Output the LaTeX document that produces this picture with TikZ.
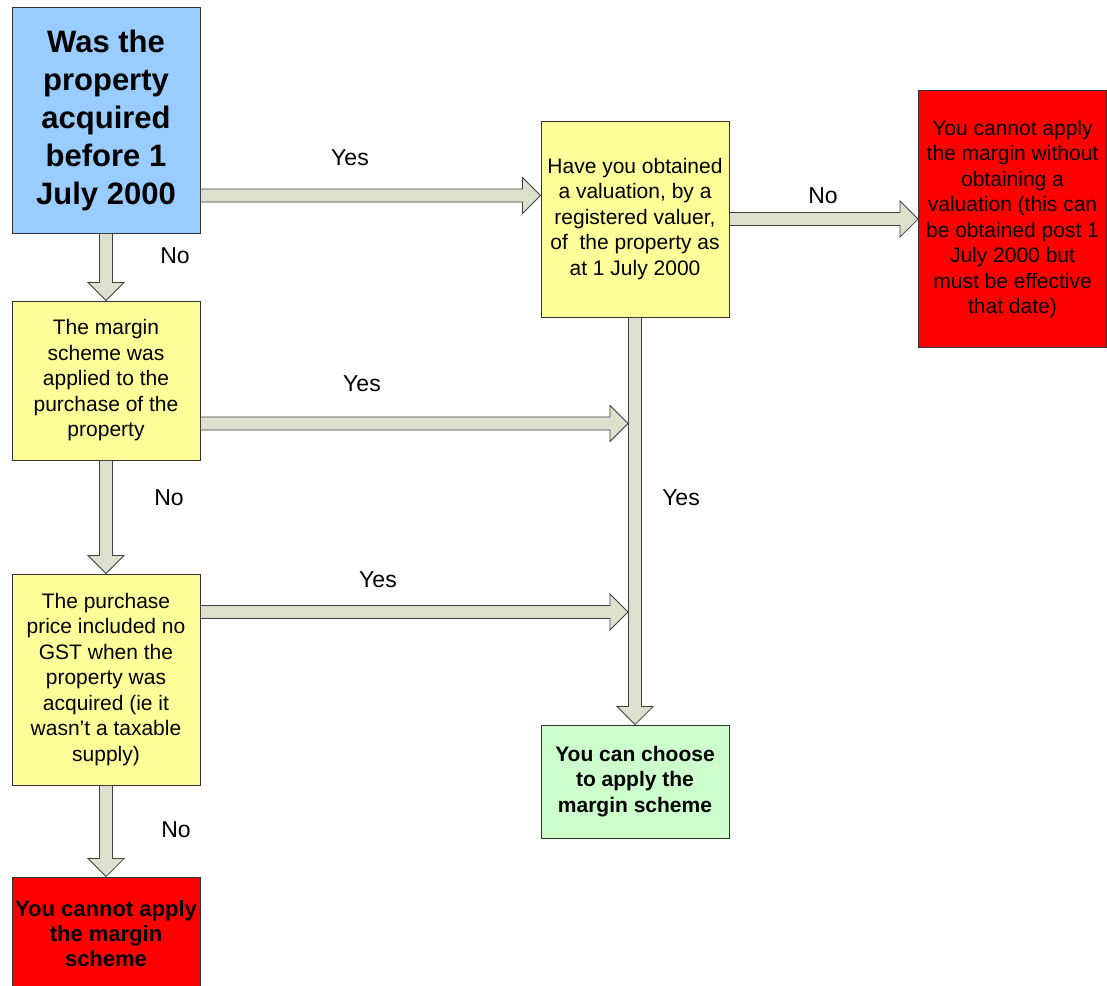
\documentclass[tikz,border=0pt]{standalone}
\usepackage{fontspec}
\setmainfont{Liberation Sans}
\usepackage{tikz}
\usetikzlibrary{calc}
\definecolor{qblue}{RGB}{153,204,255}
\definecolor{qyellow}{RGB}{255,255,153}
\definecolor{qred}{RGB}{255,0,0}
\definecolor{qgreen}{RGB}{204,255,204}
\definecolor{arrowfill}{RGB}{221,224,204}
\tikzstyle{box} = [draw=black!80, line width=0.9pt, inner sep=0pt, minimum width=188pt, align=center, font=\fontsize{21}{25.5}\selectfont]
\tikzstyle{bigarrow} = [draw=black!75, line width=0.8pt, fill=arrowfill, line join=miter]
\tikzstyle{answer} = [font=\fontsize{23}{27}\selectfont]
% block arrow from #1 to #2
\newcommand{\blockarrow}[2]{%
  \draw[bigarrow] let \p1=(#1), \p2=(#2), \n1={atan2(\y2-\y1,\x2-\x1)}, \n2={veclen(\x2-\x1,\y2-\y1)} in
    [shift={(\p1)}, rotate=\n1] (0,-6.5) -- (\n2-18,-6.5) -- (\n2-18,-18) -- (\n2,0) -- (\n2-18,18) -- (\n2-18,6.5) -- (0,6.5) -- cycle;}

\begin{document}
\begin{tikzpicture}[x=1pt,y=-1pt]
          \useasboundingbox (0,0) rectangle (1107,985);
          % boxes
          \node[box, fill=qblue, minimum height=226pt, font=\fontsize{31}{38}\selectfont\bfseries] (acq) at (106,120) {Was the\\property\\acquired\\before 1\\July 2000};
          \node[box, fill=qyellow, minimum height=159pt] (marg) at (106,380.5) {The margin\\scheme was\\applied to the\\purchase of the\\property};
          \node[box, fill=qyellow, minimum height=211pt] (gst) at (106,679.5) {The purchase\\price included no\\GST when the\\property was\\acquired (ie it\\wasn’t a taxable\\supply)};
          \node[box, fill=qred, minimum height=113pt, font=\fontsize{22}{25}\selectfont\bfseries] (cannot) at (106,933.5) {You cannot apply\\the margin\\scheme};
          \node[box, fill=qyellow, minimum height=196pt] (val) at (635,219) {Have you obtained\\a valuation, by a\\registered valuer,\\of~ the property as\\at 1 July 2000};
          \node[box, fill=qred, minimum height=257pt] (noval) at (1012.5,219) {You cannot apply\\the margin without\\obtaining a\\valuation (this can\\be obtained post 1\\July 2000 but\\must be effective\\that date)};
          \node[box, fill=qgreen, minimum height=113pt, font=\fontsize{21}{25.5}\selectfont\bfseries] (can) at (635,781.5) {You can choose\\to apply the\\margin scheme};
          % arrows
          \coordinate (a1) at ([yshift=-75.5pt]acq.east);
          \coordinate (a3) at ([yshift=-43pt]marg.east);
          \coordinate (a5) at ([yshift=67.5pt]gst.east);
          \coordinate (trunk) at ([xshift=-7pt]val.south);
          \blockarrow{val.south}{can.north}
          \blockarrow{a1}{val.west |- a1}
          \blockarrow{acq.south}{marg.north}
          \blockarrow{a3}{trunk |- a3}
          \blockarrow{marg.south}{gst.north}
          \blockarrow{a5}{trunk |- a5}
          \blockarrow{gst.south}{cannot.north}
          \blockarrow{val.east}{noval.west}
          % answers
          \node[answer] (yes1) at (350,158) {Yes};
          \node[answer] (no1) at (175,256) {No};
          \node[answer] (yes2) at (362,384) {Yes};
          \node[answer] (no2) at (169,498) {No};
          \node[answer] (yes3) at (378,580) {Yes};
          \node[answer] (no3) at (176,830) {No};
          \node[answer] (yes4) at (681,498) {Yes};
          \node[answer] (no4) at (823,196) {No};
\end{tikzpicture}
\end{document}
